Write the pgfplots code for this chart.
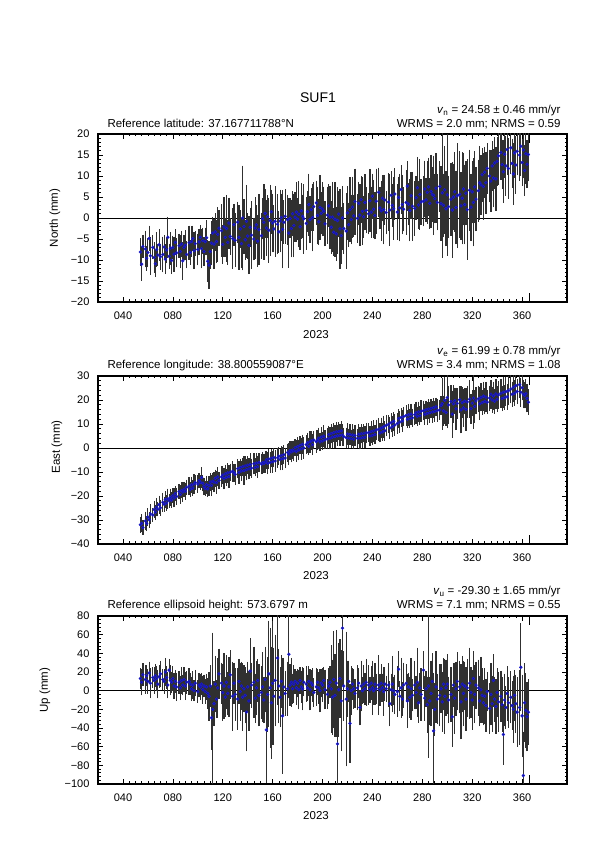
\documentclass[border=0pt]{standalone}
\usepackage{fontspec}
\setmainfont{Liberation Sans}
\usepackage{pgfplots}
\usepackage{pgfplotstable}
\pgfplotsset{compat=1.18}
\definecolor{barc}{HTML}{303030}
\definecolor{ptc}{HTML}{1C1CD0}

\pgfplotstableread{
d n sn e se u su
54 -8.1 2.8 -32.0 2.4 13 9
55 -11.0 3.5 -31.4 2.9 9 12
56 -6.8 2.3 -33.2 2.2 17 10
58 -7.4 3.9 -30.4 3.1 12 13
59 -9.6 2.5 -31.5 2.3 16 9
60 -8.2 3.0 -28.8 2.8 10 11
61 -4.9 2.6 -29.9 2.5 19 10
62 -9.0 4.1 -27.5 3.3 8 14
64 -7.0 2.4 -27.9 2.1 14 9
65 -9.4 3.2 -25.6 2.7 11 12
66 -10.9 2.7 -26.8 2.4 16 10
67 -7.5 3.6 -24.7 3.0 13 11
68 -8.8 2.2 -25.5 2.2 7 13
69 -6.4 3.3 -23.6 2.9 15 10
70 -9.2 2.6 -24.9 2.5 18 12
72 -8.7 3.8 -22.6 3.2 12 9
73 -6.9 2.4 -23.4 2.3 10 11
74 -9.8 3.1 -21.5 2.7 20 13
75 -7.6 2.7 -22.9 2.4 14 10
76 -4.6 4.4 -21.2 3.4 6 12
77 -9.1 2.5 -22.0 2.2 22 10
78 -7.2 3.4 -20.6 2.8 11 14
79 -10.1 2.8 -21.7 2.5 9 9
80 -7.0 2.3 -19.9 2.3 13 11
81 -8.6 3.7 -20.8 3.1 5 12
82 -5.8 2.6 -19.0 2.4 10 10
83 -8.3 3.0 -20.2 2.6 4 13
85 -6.6 2.4 -18.2 2.2 9 10
86 -8.0 3.5 -19.4 3.0 3 11
87 -6.2 2.7 -17.7 2.5 11 12
88 -10.2 4.0 -18.3 3.3 6 9
89 -7.0 2.5 -17.2 2.3 12 11
90 -6.5 3.1 -18.0 2.7 5 13
91 -8.7 2.8 -16.4 2.4 9 10
93 -5.9 3.6 -15.9 2.9 10 12
94 -8.2 2.4 -17.2 2.2 7 10
95 -5.6 3.2 -15.4 2.6 2 11
96 -4.9 2.6 -16.7 2.4 6 13
97 -7.8 3.9 -15.0 3.2 0 9
98 -6.1 2.5 -14.4 2.3 8 12
100 -7.5 3.3 -15.0 2.8 -1 10
101 -5.7 2.7 -13.6 2.4 6 11
102 -4.6 2.4 -14.3 2.2 4 12
103 -7.3 4.2 -12.3 3.5 7 10
104 -5.4 2.6 -14.7 2.5 1 13
105 -8.0 3.0 -16.1 2.7 5 10
106 -5.6 2.8 -16.8 2.4 -1 11
107 -4.7 3.7 -15.3 3.0 4 12
108 -10.3 4.5 -17.0 2.6 -3 14
109 -11.2 5.2 -15.7 3.3 -6 24
110 -8.0 3.6 -14.2 2.9 5 20
111 -6.0 4.8 -15.6 3.6 -29 32
112 -3.6 3.4 -13.8 2.7 -20 80
113 -6.2 5.5 -14.2 3.4 -14 22
114 -3.3 4.0 -12.6 2.8 7 28
115 -5.6 4.7 -14.4 3.9 -9 18
116 -3.9 6.0 -12.0 3.1 3 30
117 -2.4 3.8 -13.5 2.6 18 25
119 -3.0 5.8 -12.0 3.5 8 20
120 -6.3 4.2 -11.3 2.9 -2 28
121 -2.1 6.6 -12.7 3.7 5 33
122 -4.6 4.1 -10.8 3.0 -7 19
123 -2.5 7.5 -12.2 2.7 9 27
124 -5.8 4.8 -10.4 3.3 -3 21
125 -1.2 5.6 -11.9 4.0 4 30
126 -4.4 3.9 -10.1 2.8 17 24
128 -4.9 6.8 -9.7 3.5 -6 35
129 -1.6 4.5 -10.3 2.9 8 20
130 -5.3 5.9 -11.0 3.6 -4 26
132 -1.0 4.4 -8.6 3.1 -9 31
133 -4.6 7.2 -10.2 3.8 10 22
134 -2.6 4.0 -8.2 2.8 -1 29
135 -6.1 5.3 -9.5 3.4 5 24
136 0.0 12.0 -7.8 3.0 -7 34
137 -2.0 6.1 -9.4 5.2 2 23
138 -5.2 4.3 -7.5 3.3 -5 28
139 -0.8 8.2 -9.0 3.7 -23 40
140 -4.3 4.9 -7.2 2.9 4 25
141 -6.5 6.4 -8.7 3.5 -11 30
142 -2.2 4.2 -6.9 3.9 21 33
143 -4.1 7.6 -8.4 3.1 6 22
145 -5.0 4.6 -6.6 3.6 9 36
146 -2.4 6.9 -8.1 2.9 -8 24
147 -1.6 4.1 -6.3 3.3 3 27
148 -5.5 5.7 -7.8 3.8 11 21
149 -2.8 8.0 -6.0 3.0 -5 31
151 -4.2 5.0 -6.7 3.4 -2 26
152 -0.2 4.4 -6.1 3.7 4 35
153 -1.0 8.5 -6.4 3.2 -10 23
154 1.1 5.3 -5.8 3.6 12 33
155 -2.4 6.2 -4.9 3.0 -42 55
156 0.3 4.6 -6.3 3.9 -4 38
157 -2.9 7.3 -4.6 3.2 18 55
158 -0.6 8.0 -6.0 3.5 3 62
159 1.5 4.8 -4.3 2.9 -13 58
160 -1.2 6.5 -5.7 3.8 8 64
161 -2.6 5.1 -4.0 3.1 -6 50
162 -0.8 7.9 -5.4 3.6 11 47
164 -1.5 6.7 -4.1 3.3 35 48
165 -3.3 4.5 -3.4 2.8 5 38
166 -0.7 7.0 -4.8 3.7 -7 30
167 0.1 5.2 -3.1 3.0 10 26
168 -2.7 8.8 -4.5 3.9 -27 60
169 -1.0 4.7 -2.8 3.2 4 29
170 0.4 6.0 -4.2 3.5 -3 22
172 -0.4 5.5 -1.9 2.9 2 27
173 -3.6 7.8 -2.5 3.8 39 45
174 -0.1 4.3 -1.1 3.1 6 20
175 -2.5 6.4 -1.6 3.6 9 24
176 1.0 4.9 -0.9 3.0 2 14
177 -1.8 7.1 -1.2 3.4 7 18
178 0.2 5.4 0.1 2.8 10 11
179 1.4 6.6 -1.4 3.7 3 16
180 -0.3 4.5 0.6 3.1 8 13
181 0.9 7.4 -0.8 3.5 1 19
182 -2.1 5.0 1.1 2.9 11 12
183 1.7 6.2 -0.3 3.8 4 15
184 0.4 4.7 1.5 3.2 2 21
185 -0.2 7.8 0.0 3.6 9 13
187 -1.3 5.8 1.4 3.0 7 17
188 1.5 4.4 2.2 3.4 3 12
189 3.2 6.9 0.7 2.8 10 14
190 -0.4 5.1 2.6 3.7 1 20
191 2.0 4.6 3.0 3.1 8 12
192 0.1 7.6 1.4 3.5 6 16
193 2.7 5.3 3.3 2.9 -2 13
195 3.6 4.8 2.7 3.8 4 18
196 0.6 6.4 3.2 3.3 9 12
197 -0.9 5.0 4.1 3.6 3 15
198 2.5 7.2 2.6 3.0 0 21
199 1.1 4.5 4.5 3.4 8 13
200 2.1 6.0 3.0 2.8 6 16
201 1.6 5.4 4.9 3.7 11 12
202 -1.4 4.9 3.4 3.1 1 19
204 0.7 6.3 3.8 3.5 -4 14
205 2.9 4.6 5.6 2.9 5 17
206 0.2 7.0 4.1 3.8 9 15
207 -2.2 5.8 6.0 3.2 2 45
208 0.2 7.9 4.5 3.6 -7 38
209 -3.4 5.2 6.4 3.0 12 50
210 -0.3 8.4 4.8 3.9 -5 42
211 -3.8 6.0 6.7 3.3 8 55
212 -0.6 7.5 5.1 3.5 -57 60
213 0.9 5.0 6.9 2.9 1 48
214 -2.6 9.0 5.3 3.7 13 40
215 -4.2 6.3 7.1 3.2 -11 52
216 0.0 7.1 5.4 3.6 67 60
217 -2.5 5.5 4.7 3.0 5 35
219 -3.1 8.6 4.3 3.4 -9 70
220 1.2 5.9 5.8 3.8 2 28
221 -1.6 4.8 4.1 3.1 10 20
222 2.0 7.2 5.6 3.5 -35 40
223 -0.4 5.4 3.9 2.9 0 24
224 2.6 6.8 5.4 3.7 7 15
225 0.5 4.6 3.7 3.2 2 19
226 3.9 7.4 5.2 3.6 -3 13
228 -0.1 5.3 4.0 3.0 3 22
229 3.5 4.7 5.7 3.4 8 14
230 0.7 6.9 4.1 3.8 -18 17
231 4.4 5.1 5.9 3.1 5 25
232 1.6 7.6 4.3 3.5 0 12
233 0.3 4.5 6.1 2.9 7 18
234 3.7 6.2 4.5 3.7 2 15
235 1.8 5.0 6.3 3.3 9 23
237 1.0 4.4 6.5 3.0 6 19
238 4.1 7.0 5.0 3.4 1 12
239 1.4 5.6 6.8 3.8 8 16
240 5.2 4.9 5.2 3.2 3 27
241 2.1 6.5 7.1 3.6 0 13
242 0.6 5.2 5.6 3.0 7 20
243 4.0 7.3 7.5 3.5 2 14
245 6.1 5.4 7.8 3.9 6 30
246 2.4 4.6 6.3 3.1 1 15
247 1.7 6.7 8.3 3.5 8 18
248 4.7 5.0 6.7 2.9 3 13
249 2.0 7.8 8.8 3.7 -1 24
250 4.3 5.5 7.2 3.3 7 16
251 1.3 4.7 9.4 3.6 2 12
253 3.8 6.4 9.9 3.0 6 21
254 1.9 8.1 8.3 3.8 -14 22
255 5.4 5.2 10.5 3.2 1 15
256 3.0 4.6 8.9 3.5 7 28
257 2.2 7.0 11.1 3.0 0 13
258 5.7 5.7 9.6 3.7 -4 19
260 1.4 6.1 10.2 3.4 -1 25
261 4.9 4.5 12.3 3.1 23 17
262 2.4 7.5 10.8 3.6 -6 14
263 6.8 5.3 12.7 3.0 3 30
264 3.2 6.6 11.3 3.8 -9 16
265 2.1 4.8 13.1 3.3 6 22
267 3.7 7.2 13.5 3.5 8 18
268 7.6 5.4 12.0 2.9 -11 27
269 3.3 4.6 13.8 3.7 4 13
270 1.8 6.9 12.3 3.2 -7 20
271 5.3 5.1 14.1 3.6 2 31
272 2.8 7.7 12.6 3.0 -5 15
274 2.3 6.0 13.9 3.4 6 24
275 4.8 4.7 14.7 3.8 -2 16
276 7.2 6.8 13.2 3.1 9 35
277 3.1 5.2 15.0 3.5 -13 19
278 5.6 7.9 13.5 3.0 3 14
279 3.8 4.9 15.3 3.7 -4 26
281 4.0 5.5 15.6 3.3 22 18
282 6.9 6.3 14.1 3.6 -8 22
283 4.3 4.8 15.9 3.0 2 17
284 6.1 7.0 14.4 3.8 -15 28
285 7.4 6.5 16.2 3.2 5 75
286 3.5 5.6 14.7 3.5 -11 24
287 6.3 8.3 16.5 3.0 -3 33
288 5.6 6.0 15.0 3.7 10 28
289 5.4 9.0 16.8 3.3 -43 60
290 4.6 5.4 15.3 3.6 -20 26
291 7.1 7.8 17.1 3.1 4 36
292 3.7 6.2 15.6 3.8 -9 25
294 7.5 5.5 15.9 3.4 -5 31
295 3.4 8.4 17.7 3.0 2 24
296 6.0 15.0 18.5 10.0 -12 30
297 3.0 7.1 15.5 5.5 7 26
298 6.7 10.0 19.9 9.0 -6 38
299 2.2 8.5 14.8 4.8 3 28
300 5.5 14.0 21.0 12.0 7 30
301 2.7 6.9 18.0 7.0 -10 23
303 4.5 8.2 19.3 6.0 -4 27
304 1.9 11.0 14.1 9.0 -28 30
305 5.0 7.3 18.4 7.0 6 21
306 6.2 9.0 19.7 4.6 -8 36
307 2.5 8.3 16.3 8.0 2 27
308 5.3 12.0 18.6 5.5 10 29
310 5.6 9.8 20.1 4.8 4 26
311 2.9 7.6 15.9 9.0 -12 38
312 4.7 10.5 18.9 5.6 7 28
313 6.9 8.2 16.7 7.0 -3 33
314 3.2 9.0 19.5 4.7 5 24
315 5.9 7.2 16.1 8.0 -9 32
316 2.0 11.5 19.2 5.8 3 29
318 6.6 9.2 20.3 7.0 8 36
319 2.6 7.5 16.4 5.4 -2 25
320 6.2 7.0 18.7 4.6 -10 30
321 3.7 10.0 20.8 12.0 13 27
322 7.4 8.0 17.3 5.9 -4 29
323 4.5 7.2 19.6 4.8 6 23
325 6.5 6.9 20.5 4.7 3 28
326 8.4 8.3 18.4 6.0 -11 25
327 7.9 6.6 21.1 5.0 1 33
328 10.3 5.9 18.9 4.3 -5 27
329 7.5 7.4 21.6 5.2 -13 22
330 10.9 5.6 19.4 4.6 -6 28
331 8.4 6.9 21.2 5.5 -16 26
332 11.8 5.5 19.1 4.2 -1 19
334 10.0 5.8 20.8 4.4 -19 25
335 8.8 6.8 22.4 5.3 -4 31
336 12.4 5.4 20.0 4.6 -14 28
337 9.5 6.5 21.7 5.1 11 26
338 13.1 5.7 19.5 4.3 -9 22
339 9.3 7.2 22.5 5.4 -17 27
340 13.5 5.3 20.3 4.5 -2 24
341 14.8 6.4 22.1 5.0 -12 30
343 15.6 6.0 22.8 5.2 -6 25
344 12.7 5.4 20.6 4.4 -15 27
345 11.0 7.0 23.2 5.5 -47 30
346 15.2 5.2 21.0 4.3 -10 26
347 12.4 6.6 23.5 5.1 -18 21
348 16.3 5.5 21.3 4.6 -3 27
349 11.8 6.8 23.9 5.3 -13 25
351 16.7 5.8 24.6 5.2 -7 26
352 13.0 5.4 22.4 4.4 -16 24
353 10.5 6.9 25.3 5.5 -20 34
354 15.5 5.5 22.8 4.5 -5 25
355 12.6 6.4 26.0 5.2 -14 29
356 15.9 5.3 23.5 4.4 -23 35
358 15.0 5.6 26.4 4.7 -18 38
359 17.1 6.6 23.2 5.2 25 45
360 13.2 5.1 25.1 4.4 -27 42
361 16.2 6.3 22.4 5.1 -91 45
362 11.3 5.6 21.9 4.6 -13 40
363 15.3 6.7 22.6 5.3 -21 38
364 12.8 5.2 20.7 5.0 -28 35
365 15.1 5.9 19.1 4.5 -23 33
}\gps

\pgfplotsset{
  gpsaxis/.style={
    scale only axis, width=469pt, height=168pt, anchor=south west,
    xmin=20, xmax=396,
    xtick={40,80,...,360},
    xticklabels={040,080,120,160,200,240,280,320,360},
    minor x tick num=7, minor y tick num=4,
    tick align=inside, major tick length=5pt, minor tick length=2.5pt,
    axis line style={line width=1.2pt},
    every tick/.style={black, line width=0.6pt},
    tick label style={font=\fontsize{11}{13}\selectfont},
    xticklabel shift=6pt, yticklabel shift=5pt,
    extra x ticks={366}, extra x tick labels={},
    extra x tick style={major tick length=9pt},
  },
  gpsdata/.style={
    only marks, mark=*, mark size=1.5pt,
    mark options={fill=ptc!80!black, draw=ptc, line width=0.4pt},
    error bars/.cd, y dir=both, y explicit,
    error bar style={barc, line width=1.2pt},
    error mark options={barc, mark size=2pt, line width=1.2pt},
  },
}

\begin{document}
\begin{tikzpicture}[x=1pt,y=1pt]
\useasboundingbox (0,0) rectangle (595,842);

\begin{axis}[gpsaxis, at={(98pt,540pt)},
  ymin=-20, ymax=20, ytick={-20,-15,...,20},
  yticklabels={−20,−15,−10,−5,0,5,10,15,20}]
\addplot[black, line width=0.8pt] coordinates {(20,0) (396,0)};
\addplot[gpsdata] table[x=d, y=n, y error=sn] {\gps};
\end{axis}

\begin{axis}[gpsaxis, at={(98pt,298pt)},
  ymin=-40, ymax=30, ytick={-40,-30,...,30},
  yticklabels={−40,−30,−20,−10,0,10,20,30}]
\addplot[black, line width=0.8pt] coordinates {(20,0) (396,0)};
\addplot[gpsdata] table[x=d, y=e, y error=se] {\gps};
\end{axis}

\begin{axis}[gpsaxis, at={(98pt,58pt)},
  ymin=-100, ymax=80, ytick={-100,-80,...,80},
  yticklabels={−100,−80,−60,−40,−20,0,20,40,60,80}]
\addplot[black, line width=0.8pt] coordinates {(20,0) (396,0)};
\addplot[gpsdata] table[x=d, y=u, y error=su] {\gps};
\end{axis}

\node[font=\fontsize{14}{16}\selectfont, anchor=base] at (318,739) {SUF1};

\begin{scope}[every node/.style={font=\fontsize{11.5}{13}\selectfont}]
\node[anchor=base east] at (564,728) {\textit{v}\textsubscript{n} = 24.58 ± 0.46 mm/yr};
\node[anchor=base west] at (104,714) {Reference latitude: 37.167711788°N};
\node[anchor=base east] at (564,714) {WRMS = 2.0 mm; NRMS = 0.59};
\node[anchor=base] at (316,503) {2023};
\node[rotate=90] at (55,624) {North (mm)};

\node[anchor=base east] at (564,487) {\textit{v}\textsubscript{e} = 61.99 ± 0.78 mm/yr};
\node[anchor=base west] at (104,473) {Reference longitude: 38.800559087°E};
\node[anchor=base east] at (564,473) {WRMS = 3.4 mm; NRMS = 1.08};
\node[anchor=base] at (316,262) {2023};
\node[rotate=90] at (57,395) {East (mm)};

\node[anchor=base east] at (564,247) {\textit{v}\textsubscript{u} = -29.30 ± 1.65 mm/yr};
\node[anchor=base west] at (104,233) {Reference ellipsoid height: 573.6797 m};
\node[anchor=base east] at (564,233) {WRMS = 7.1 mm; NRMS = 0.55};
\node[anchor=base] at (316,22) {2023};
\node[rotate=90] at (45,152) {Up (mm)};
\end{scope}
\end{tikzpicture}
\end{document}
